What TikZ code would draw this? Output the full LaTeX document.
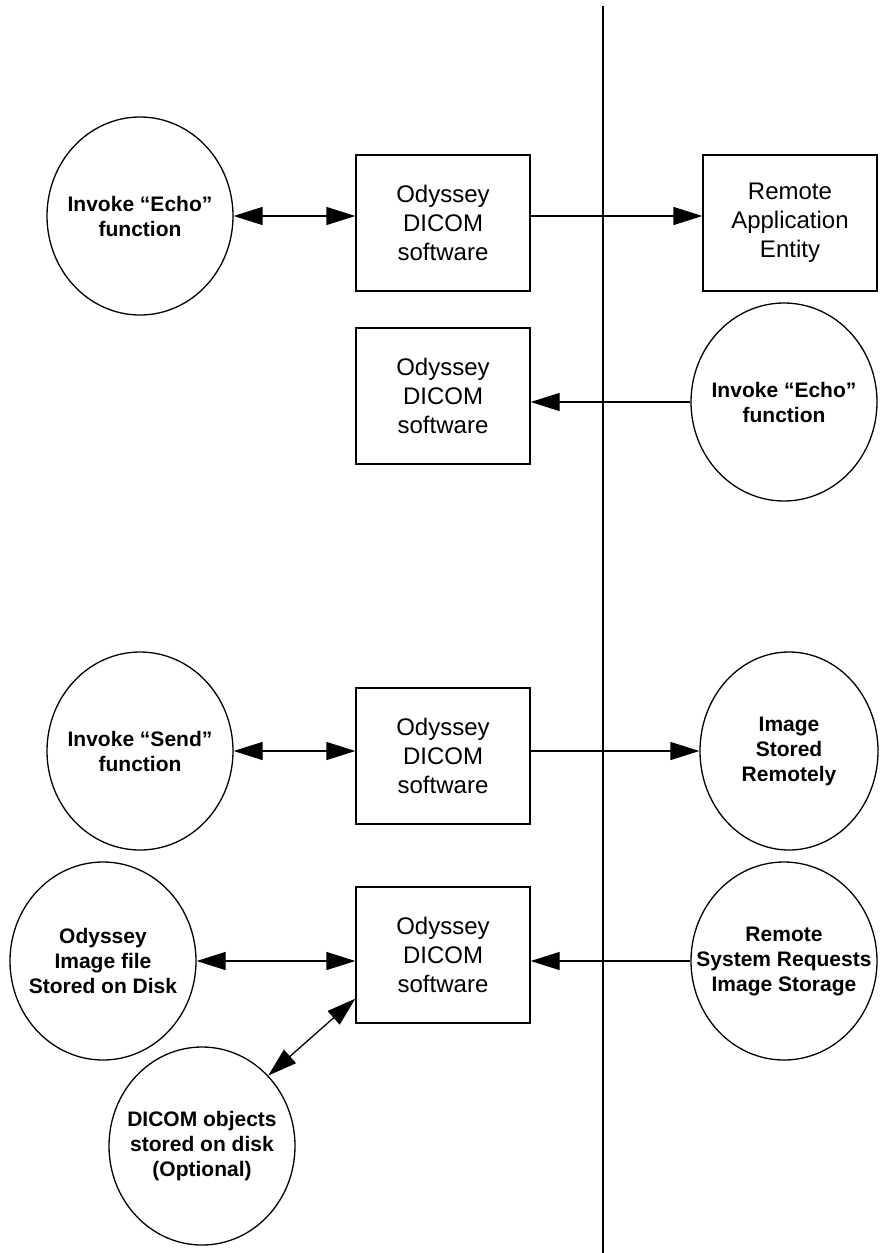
\documentclass[tikz,border=0pt]{standalone}
\usepackage{fontspec}
\setmainfont{Liberation Sans}
\usetikzlibrary{shapes.geometric, arrows.meta}
\tikzset{
    every path/.style={line width=1.3pt}, % all lines a bit heavy
    >={Triangle[length=29pt, width=18pt]}, % big filled arrow heads
    soft/.style={draw, rectangle, minimum width=174pt, minimum height=136pt, inner sep=0pt, align=center, font=\fontsize{24}{29}\selectfont}, % software boxes
    proc/.style={draw, ellipse, minimum width=186pt, minimum height=198pt, inner sep=0pt}, % ellipses, text goes in a label
    ptext/.style={align=center, font=\fontsize{21}{25}\selectfont\bfseries}, % text in the ellipses
}

\begin{document}
\begin{tikzpicture}[x=1pt, y=-1pt]
    \useasboundingbox (0,0) rectangle (879,1253);
    % divider
    \coordinate (top) at (603,6);
    \coordinate (bot) at (603,1253);
    \draw (top) -- (bot);
    % echo, local side
    \node[proc, label={[ptext]center:Invoke “Echo”\\function}] (echo1) at (140,216) {};
    \node[soft] (sw1) at (443,223) {Odyssey\\DICOM\\software};
    \node[soft] (ae) at (790,223) {Remote\\Application\\Entity};
    % echo, remote side
    \node[soft] (sw2) at (443,396) {Odyssey\\DICOM\\software};
    \node[proc, label={[ptext]center:Invoke “Echo”\\function}] (echo2) at (784,402) {};
    % send
    \node[proc, label={[ptext]center:Invoke “Send”\\function}] (send) at (140,751) {};
    \node[soft] (sw3) at (443,756) {Odyssey\\DICOM\\software};
    \node[proc, minimum width=178pt, label={[ptext]center:Image\\Stored\\Remotely}] (stored) at (789,751) {};
    % store
    \node[proc, label={[ptext]center:Odyssey\\Image file\\Stored on Disk}] (disk) at (103,961) {};
    \node[soft] (sw4) at (443,955) {Odyssey\\DICOM\\software};
    \node[proc, label={[ptext]center:Remote\\System Requests\\Image Storage}] (req) at (784,961) {};
    \node[proc, label={[ptext]center:DICOM objects\\stored on disk\\(Optional)}] (obj) at (202,1146) {};
    \draw[<->] (echo1) -- (echo1 -| sw1.west);
    \draw[->] (sw1.east |- echo1) -- (ae.west |- echo1);
    \draw[->] (echo2) -- (echo2 -| sw2.east);
    \draw[<->] (send) -- (send -| sw3.west);
    \draw[->] (sw3.east |- stored) -- (stored);
    \draw[<->] (disk) -- (disk -| sw4.west);
    \draw[->] (req) -- (req -| sw4.east);
    \draw[<->] ([yshift=25pt]sw4.south west) -- (obj.north east);
\end{tikzpicture}
\end{document}
